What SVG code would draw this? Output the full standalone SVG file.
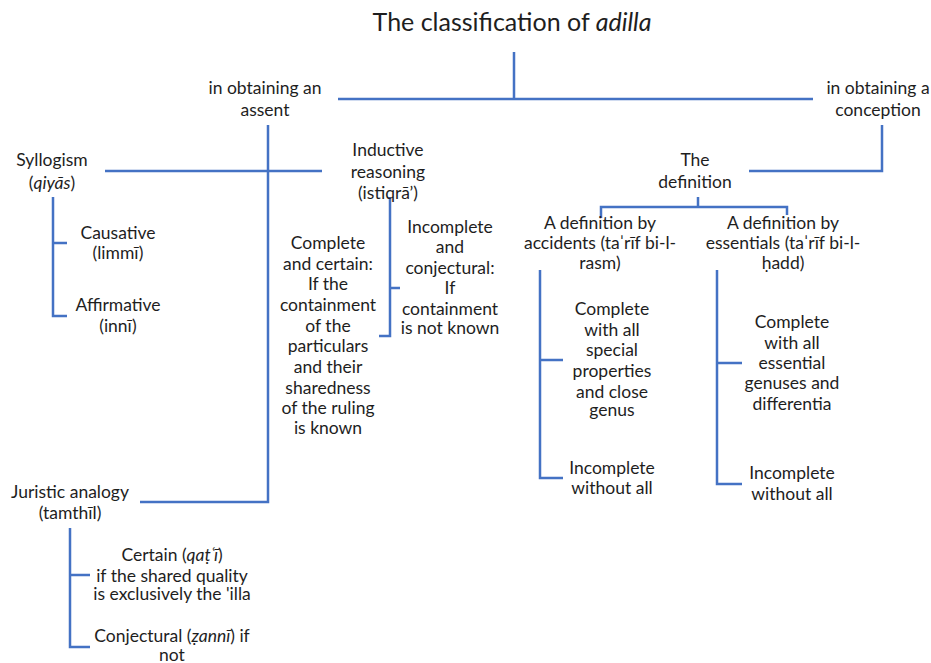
<svg xmlns="http://www.w3.org/2000/svg" width="931" height="663" viewBox="0 0 931 663">
  <style>
    text { font-family: Lato, "Open Sans", "Liberation Sans", sans-serif; fill: #1e1e1e; text-anchor: middle; font-size: 17.5px; }
    .title { font-size: 25px; }
    .it { font-style: italic; }
    #connectors path { fill: none; stroke: #4472C4; stroke-width: 2.5; }
  </style>
  <rect width="931" height="663" fill="#ffffff"/>

  <g id="connectors">
    <path d="M514 52 V99 M338 99 H813"/>
    <path d="M268 125 V502 H140"/>
    <path d="M105 171 H322"/>
    <path d="M53 197 V316 H67 M53 243 H67"/>
    <path d="M390 197 V336 H379 M390 288 H400"/>
    <path d="M882 125 V171 H749"/>
    <path d="M698 197 V207 M601 218 V207 H787 V215"/>
    <path d="M540 270 V478 H563 M540 360 H563"/>
    <path d="M717 270 V484 H742 M717 363 H742"/>
    <path d="M70 528 V647 H90 M70 575 H90"/>
  </g>

  <g id="title">
    <text class="title" x="512" y="31">The classification of <tspan class="it">adilla</tspan></text>
  </g>

  <g id="assent">
    <text x="265" y="94">in obtaining an</text>
    <text x="265" y="116">assent</text>
  </g>

  <g id="conception">
    <text x="878" y="94">in obtaining a</text>
    <text x="878" y="116">conception</text>
  </g>

  <g id="syllogism">
    <text x="52" y="166">Syllogism</text>
    <text x="52" y="189">(<tspan class="it">qiyās</tspan>)</text>
  </g>

  <g id="causative">
    <text x="118" y="239">Causative</text>
    <text x="118" y="259">(limmī)</text>
  </g>

  <g id="affirmative">
    <text x="118" y="311">Affirmative</text>
    <text x="118" y="332">(innī)</text>
  </g>

  <g id="inductive">
    <text x="388" y="156">Inductive</text>
    <text x="388" y="178">reasoning</text>
    <text x="388" y="199">(istiqrā’)</text>
  </g>

  <g id="complete-certain">
    <text x="328" y="249">Complete</text>
    <text x="328" y="270">and certain:</text>
    <text x="328" y="290">If the</text>
    <text x="328" y="311">containment</text>
    <text x="328" y="332">of the</text>
    <text x="328" y="352">particulars</text>
    <text x="328" y="373">and their</text>
    <text x="328" y="394">sharedness</text>
    <text x="328" y="414">of the ruling</text>
    <text x="328" y="434">is known</text>
  </g>

  <g id="incomplete-conjectural">
    <text x="450" y="233">Incomplete</text>
    <text x="450" y="253">and</text>
    <text x="450" y="274">conjectural:</text>
    <text x="450" y="294">If</text>
    <text x="450" y="315">containment</text>
    <text x="450" y="334">is not known</text>
  </g>

  <g id="definition">
    <text x="695" y="166">The</text>
    <text x="695" y="188">definition</text>
  </g>

  <g id="by-accidents">
    <text x="600" y="229">A definition by</text>
    <text x="600" y="249">accidents (taˈrīf bi-l-</text>
    <text x="600" y="269">rasm)</text>
  </g>

  <g id="by-essentials">
    <text x="783" y="229">A definition by</text>
    <text x="783" y="249">essentials (taˈrīf bi-l-</text>
    <text x="783" y="269">ḥadd)</text>
  </g>

  <g id="accidents-complete">
    <text x="612" y="315">Complete</text>
    <text x="612" y="336">with all</text>
    <text x="612" y="356">special</text>
    <text x="612" y="377">properties</text>
    <text x="612" y="398">and close</text>
    <text x="612" y="416">genus</text>
  </g>

  <g id="accidents-incomplete">
    <text x="612" y="474">Incomplete</text>
    <text x="612" y="494">without all</text>
  </g>

  <g id="essentials-complete">
    <text x="792" y="328">Complete</text>
    <text x="792" y="349">with all</text>
    <text x="792" y="369">essential</text>
    <text x="792" y="389">genuses and</text>
    <text x="792" y="410">differentia</text>
  </g>

  <g id="essentials-incomplete">
    <text x="792" y="479">Incomplete</text>
    <text x="792" y="500">without all</text>
  </g>

  <g id="juristic">
    <text x="70" y="498">Juristic analogy</text>
    <text x="70" y="519">(tamthīl)</text>
  </g>

  <g id="certain">
    <text x="172" y="561">Certain (<tspan class="it">qaṭʿī</tspan>)</text>
    <text x="172" y="582">if the shared quality</text>
    <text x="172" y="600">is exclusively the 'illa</text>
  </g>

  <g id="conjectural">
    <text x="172" y="642">Conjectural (<tspan class="it">ẓannī</tspan>) if</text>
    <text x="172" y="661">not</text>
  </g>
</svg>
